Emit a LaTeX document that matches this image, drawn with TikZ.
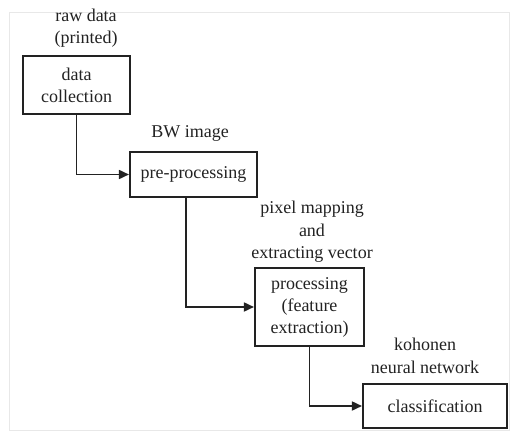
\documentclass[tikz,border=0pt]{standalone}
\usepackage{fontspec}
\setmainfont{Liberation Serif}
\usetikzlibrary{arrows.meta}
\definecolor{ink}{HTML}{222222}
\tikzset{
  stepbox/.style={draw=ink, line width=2.1pt, align=center, inner sep=0pt, text=ink,
    font=\fontsize{18}{22}\selectfont},
  lbl/.style={align=center, inner sep=0pt, text=ink, font=\fontsize{18}{22.5}\selectfont},
  flow/.style={draw=ink, line width=1.7pt, -{Triangle[length=10pt,width=9pt]}}
}
\begin{document}
\begin{tikzpicture}[x=1pt,y=-1pt]
\useasboundingbox (0,0) rectangle (517,434);
\draw[gray!18, line width=1pt] (9,12) rectangle (509,430);
\node[stepbox, minimum width=107pt, minimum height=58pt] (b1) at (76.5,85) {data\\collection};
\node[stepbox, minimum width=127pt, minimum height=45pt] (b2) at (193.5,174.5) {pre-processing};
\node[stepbox, minimum width=109pt, minimum height=78pt] (b3) at (309.5,307) {processing\\(feature\\extraction)};
\node[stepbox, minimum width=144pt, minimum height=44pt] (b4) at (435,406) {classification};
\node[lbl] (l1) at (86,28) {raw data\\(printed)};
\node[lbl] (l2) at (190,133) {BW image};
\node[lbl] (l3) at (312,232) {pixel mapping\\and\\extracting vector};
\node[lbl] (l4) at (425,356) {kohonen\\neural network};
\draw[flow] (b1.south) |- (b2.west);
\draw[flow] ([xshift=-7.5pt]b2.south) |- (b3.west);
\draw[flow] (b3.south) |- (b4.west);
\end{tikzpicture}
\end{document}
